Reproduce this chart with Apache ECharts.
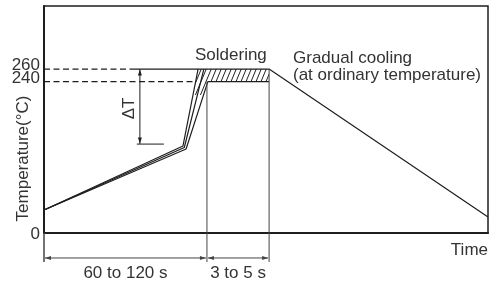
<!DOCTYPE html>
<html><head><meta charset="utf-8">
<script src="https://cdn.jsdelivr.net/npm/echarts@6/dist/echarts.min.js"></script>
<style>html,body{margin:0;padding:0;background:#fff}#c{width:492px;height:283px}</style>
</head><body><div id="c"></div>
<script>
// Schematic time units (0..100) and temperature in °C
const upperTime  = [0, 31.3, 34.7, 50.7, 100];
const upperTemp  = [36.5, 138, 260, 260, 25.4];
const middleTime = [0, 31.6, 36.0];
const middleTemp = [36.5, 135.6, 260];
const lowerTime  = [0, 32.0, 36.9, 50.7];
const lowerTemp  = [36.5, 133.2, 240, 240];
const hatchTime  = [34.7, 50.7, 50.7, 36.9, 35.9, 33.6];
const hatchTemp  = [260, 260, 240, 240, 219, 219];
const yTickValues = [0, 240, 260];
const yTickLabels = ['0', '240', '260'];
const phaseTime  = [0, 36.7, 50.7];          // start, preheat end, soldering end
const phaseLabels = ['60 to 120 s', '3 to 5 s'];
const peakTemp = 260, minPeakTemp = 240;
const dashEndTime = [19.8, 34.1];             // end of the 260 / 240 dashed guides
const deltaT = { time: 21.6, low: 141, tickFrom: 20.9, tickTo: 27 };
const belowAxisTemp = -46, dimTemp = -39.6;

const zip = (a, b) => a.map((v, i) => [v, b[i]]);
const FONT = '17px "Liberation Sans", Arial, sans-serif';
const INK = '#1e1e1e', TXT = '#333';

// hatch pattern
const pc = document.createElement('canvas');
pc.width = 5; pc.height = 12;
const g = pc.getContext('2d');
g.strokeStyle = '#222'; g.lineWidth = 1;
[[-5, 0], [0, 0], [5, 0]].forEach(([ox]) => { g.beginPath(); g.moveTo(ox, 12); g.lineTo(ox + 5, 0); g.stroke(); });

const lineS = (data, extra) => Object.assign({
  type: 'line', data, symbol: 'none', animation: false, silent: true,
  lineStyle: { color: INK, width: 1.2 }, z: 5
}, extra || {});

const chart = echarts.init(document.getElementById('c'));
chart.setOption({
  animation: false,
  grid: { left: 44, right: 4, top: 6, bottom: 50, show: true, borderColor: INK, borderWidth: 1.5 },
  xAxis: { type: 'value', min: 0, max: 100, axisLine: { lineStyle: { color: INK, width: 2 } },
           axisTick: { show: false }, axisLabel: { show: false }, splitLine: { show: false } },
  yAxis: { type: 'value', min: 0, max: 360, axisLine: { show: true, lineStyle: { color: INK, width: 2 } },
           axisTick: { show: false }, splitLine: { show: false }, axisLabel: { show: false } },
  series: [
    { type: 'custom', silent: true, z: 2, clip: false, data: zip(hatchTime, hatchTemp),
      renderItem: (params, api) => {
        if (params.dataIndex !== 0) return;
        const pts = hatchTime.map((t, i) => api.coord([t, hatchTemp[i]]));
        return { type: 'polygon', shape: { points: pts }, style: { fill: { image: pc, repeat: 'repeat' }, stroke: null } };
      } },
    lineS(zip(upperTime, upperTemp)),
    lineS(zip(middleTime, middleTemp)),
    lineS(zip(lowerTime, lowerTemp)),
    lineS([[0, peakTemp], [dashEndTime[0], peakTemp]], { lineStyle: { color: INK, width: 1.2, type: [6, 3.5] } }),
    lineS([[dashEndTime[0], peakTemp], [upperTime[2], peakTemp]]),
    lineS([[0, minPeakTemp], [dashEndTime[1], minPeakTemp]], { lineStyle: { color: INK, width: 1.2, type: [6, 3.5] } }),
    lineS([[phaseTime[1], minPeakTemp], [phaseTime[1], belowAxisTemp]], { clip: false, lineStyle: { color: '#444', width: 1 } }),
    lineS([[phaseTime[2], peakTemp], [phaseTime[2], belowAxisTemp]], { clip: false, lineStyle: { color: '#444', width: 1 } }),
    lineS([[0, 0], [0, belowAxisTemp]], { clip: false, lineStyle: { color: '#444', width: 1.5 } }),
    lineS([[deltaT.time, peakTemp], [deltaT.time, deltaT.low]], { lineStyle: { color: INK, width: 1 } }),
    lineS([[deltaT.tickFrom, deltaT.low], [deltaT.tickTo, deltaT.low]], { lineStyle: { color: INK, width: 1 } })
  ]
});

const P = (t, v) => chart.convertToPixel({ gridIndex: 0 }, [t, v]);
const head = (x, y, dir, col) => {
  const L = 6, W = 2;
  const pts = { left: [[x, y], [x + L, y - W], [x + L, y + W]], right: [[x, y], [x - L, y - W], [x - L, y + W]],
                up: [[x, y], [x - W, y + L], [x + W, y + L]], down: [[x, y], [x - W, y - L], [x + W, y - L]] }[dir];
  return { type: 'polygon', shape: { points: pts }, style: { fill: col || '#444' }, silent: true, z: 10 };
};
const txt = (text, x, y, align, rot) => ({ type: 'text', x, y, rotation: rot || 0, silent: true, z: 10,
  style: { text, font: FONT, fill: TXT, textAlign: align || 'left', textVerticalAlign: 'middle' } });

const els = [];
// y tick labels (the 240/260 labels sit just above their guide lines)
yTickValues.forEach((v, i) => {
  const p = P(0, v);
  els.push(txt(yTickLabels[i], p[0] - 4, p[1] + (v === 0 ? 1 : -3.5), 'right'));
});
for (let i = 0; i < 2; i++) {
  const a = P(phaseTime[i], dimTemp), b = P(phaseTime[i + 1], dimTemp);
  els.push({ type: 'line', shape: { x1: a[0] + 1, y1: a[1], x2: b[0] - 1, y2: b[1] }, style: { stroke: '#444', lineWidth: 1 }, silent: true });
  els.push(head(a[0] + 1, a[1], 'left'), head(b[0] - 1, b[1], 'right'));
  els.push(txt(phaseLabels[i], (a[0] + b[0]) / 2, 273.5, 'center'));
}
const dt = P(deltaT.time, peakTemp), db = P(deltaT.time, deltaT.low);
els.push(head(dt[0], dt[1] + 0.5, 'up', INK), head(db[0], db[1] - 0.5, 'down', INK));
els.push(txt('ΔT', dt[0] - 11, 108.5, 'center', Math.PI / 2));
els.push(txt('Temperature(°C)', 23.5, 158.5, 'center', Math.PI / 2));
els.push(txt('Soldering', 195, 55, 'left'));
els.push(txt('Gradual cooling', 293, 58, 'left'));
els.push(txt('(at ordinary temperature)', 293, 75, 'left'));
els.push(txt('Time', 488, 250, 'right'));
chart.setOption({ graphic: els });
</script></body></html>
